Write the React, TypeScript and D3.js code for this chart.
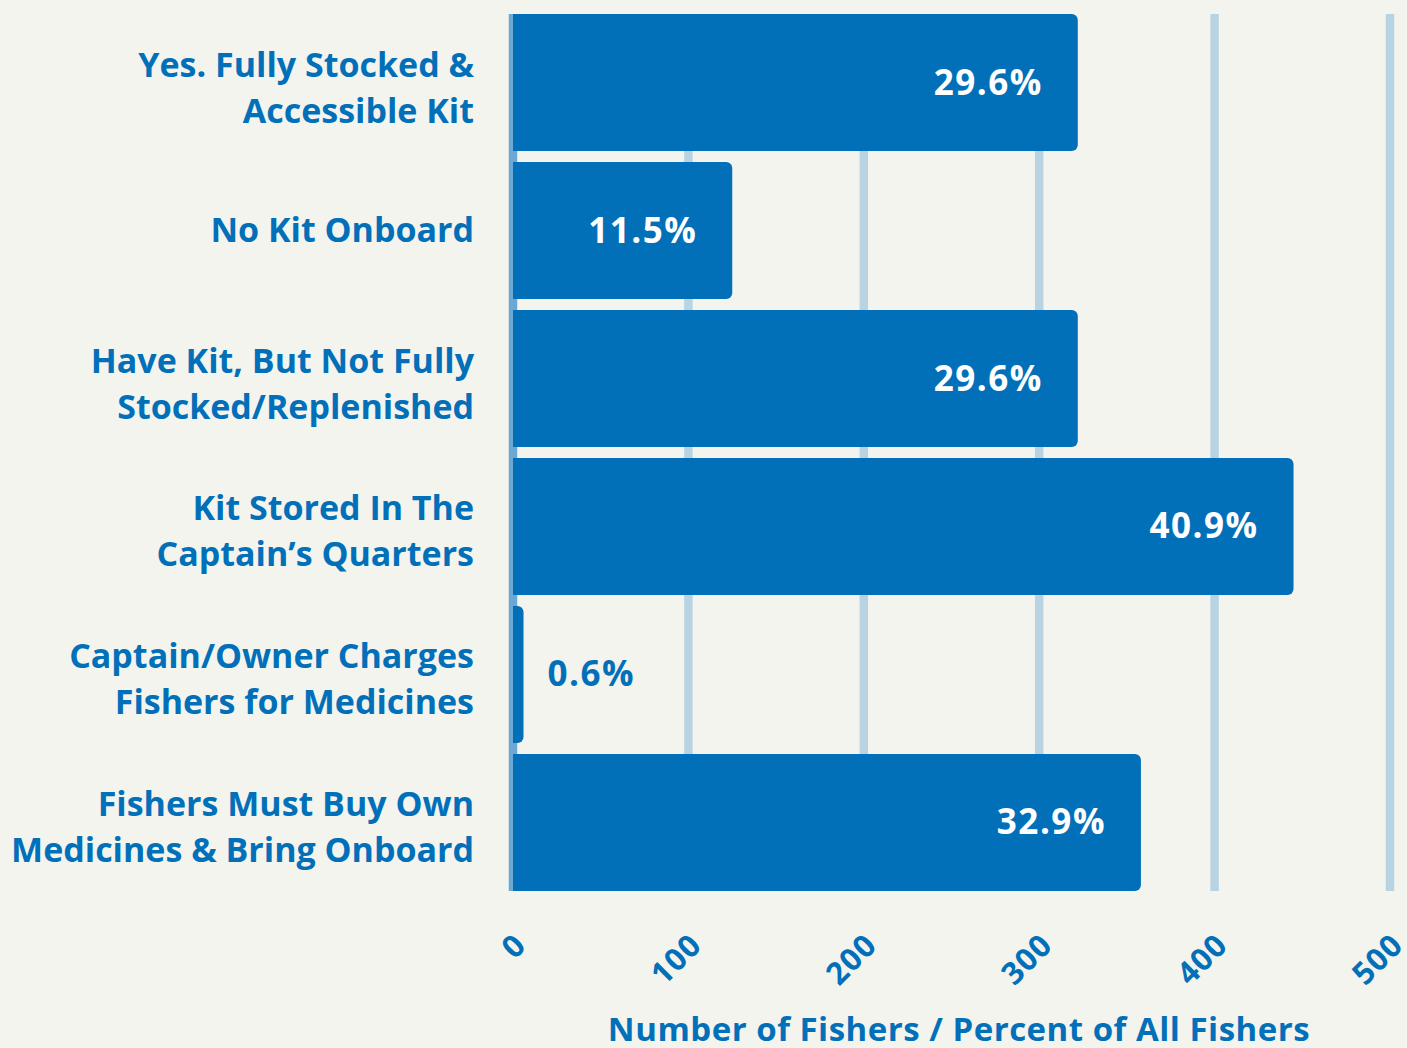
import React from "react";
import * as d3 from "d3";

const categories: string[][] = [
  ["Yes. Fully Stocked &", "Accessible Kit"],
  ["No Kit Onboard"],
  ["Have Kit, But Not Fully", "Stocked/Replenished"],
  ["Kit Stored In The", "Captain\u2019s Quarters"],
  ["Captain/Owner Charges", "Fishers for Medicines"],
  ["Fishers Must Buy Own", "Medicines & Bring Onboard"],
];
const counts: number[] = [322, 125, 322, 445, 6, 358];
const percentLabels: string[] = ["29.6%", "11.5%", "29.6%", "40.9%", "0.6%", "32.9%"];
const xTicks: number[] = [0, 100, 200, 300, 400, 500];
const axisTitle = "Number of Fishers / Percent of All Fishers";

const W = 1407;
const H = 1048;
const BLUE = "#0270b9";
const BG = "#f4f4ef";
const GRID = "#b8d4e3";
const AXIS = "#6ba8d3";
const FONT = "'Open Sans', 'DejaVu Sans', sans-serif";

function rightRounded(x0: number, y: number, w: number, h: number, r: number) {
  const rr = Math.min(r, w, h / 2);
  const x1 = x0 + w;
  return `M${x0},${y}H${x1 - rr}A${rr},${rr} 0 0 1 ${x1},${y + rr}V${y + h - rr}A${rr},${rr} 0 0 1 ${x1 - rr},${y + h}H${x0}Z`;
}

export default function App() {
  const x = d3.scaleLinear().domain([0, 500]).range([513, 1390]);
  const y = d3
    .scaleBand<number>()
    .domain(d3.range(categories.length))
    .range([14, 891])
    .paddingInner(0.0743)
    .paddingOuter(0);
  const bh = y.bandwidth();

  return (
    <svg
      width={W}
      height={H}
      style={{ position: "absolute", left: 0, top: 0, display: "block" }}
      fontFamily={FONT}
    >
      <rect x={0} y={0} width={W} height={H} fill={BG} />
      {xTicks.map((t) => (
        <line
          key={"g" + t}
          x1={x(t)}
          x2={x(t)}
          y1={14}
          y2={891}
          stroke={t === 0 ? AXIS : GRID}
          strokeWidth={8.5}
        />
      ))}
      {counts.map((c, i) => (
        <path
          key={"b" + i}
          d={rightRounded(x(0), y(i)!, x(c) - x(0), bh, 6)}
          fill={BLUE}
        />
      ))}
      {counts.map((c, i) => {
        const inside = x(c) - x(0) > 150;
        const cy = y(i)! + bh / 2;
        return (
          <text
            key={"v" + i}
            x={inside ? x(c) - 35 : x(c) + 24}
            y={cy + 12}
            textAnchor={inside ? "end" : "start"}
            fill={inside ? "#ffffff" : BLUE}
            fontWeight={700}
            fontSize={35}
            letterSpacing={1.5}
          >
            {percentLabels[i]}
          </text>
        );
      })}
      {categories.map((lines, i) => {
        const cy = y(i)! + bh / 2;
        const offs = lines.length === 1 ? [11] : [-6, 40];
        return (
          <text
            key={"c" + i}
            textAnchor="end"
            fill={BLUE}
            fontWeight={700}
            fontSize={34}
          >
            {lines.map((l, j) => (
              <tspan key={j} x={474} y={cy + offs[j]}>
                {l}
              </tspan>
            ))}
          </text>
        );
      })}
      {xTicks.map((t) => (
        <text
          key={"t" + t}
          transform={`translate(${x(t) + 15},${947}) rotate(-45)`}
          textAnchor="end"
          fill={BLUE}
          fontWeight={700}
          fontSize={31}
          letterSpacing={1}
        >
          {t}
        </text>
      ))}
      <text
        x={959}
        y={1041}
        textAnchor="middle"
        fill={BLUE}
        fontWeight={700}
        fontSize={33}
        letterSpacing={0.5}
      >
        {axisTitle}
      </text>
    </svg>
  );
}
